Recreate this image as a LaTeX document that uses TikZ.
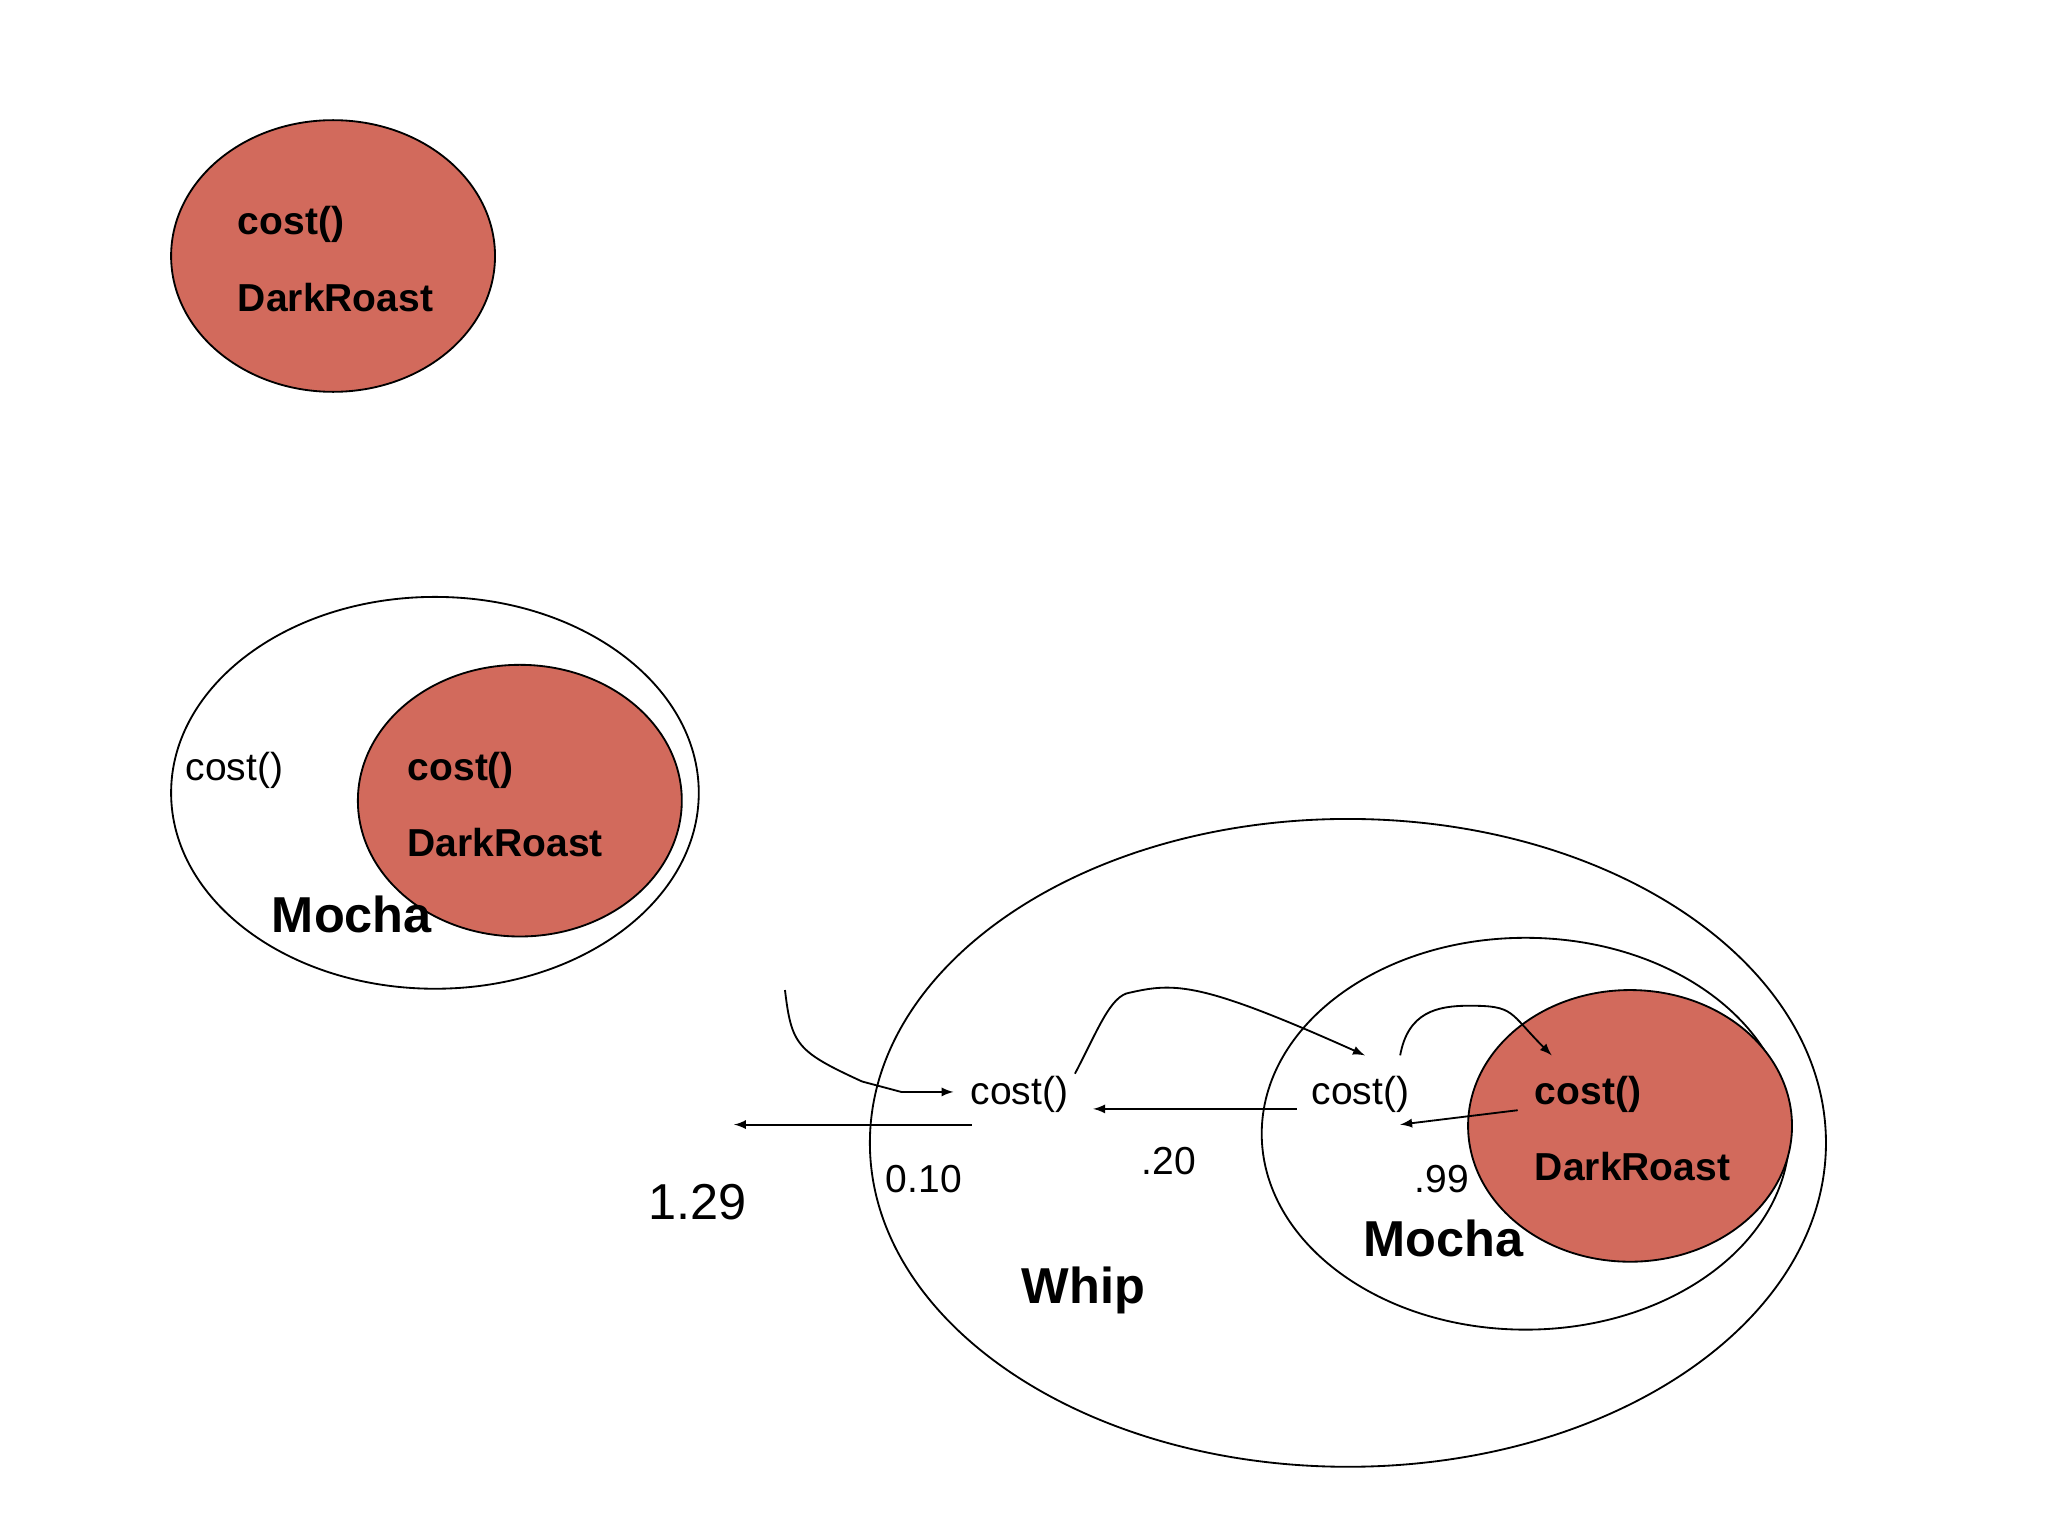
\documentclass[tikz,border=0pt]{standalone}
\usepackage{fontspec}
\setmainfont{Liberation Sans}
\definecolor{roast}{HTML}{D26A5C}
\begin{document}
\begin{tikzpicture}[x=0.02cm,y=-0.02cm,
  red/.style={draw,fill=roast,line width=0.8pt},
  wrap/.style={draw,line width=0.8pt},
  bt/.style={anchor=west,font=\fontsize{17}{20}\selectfont\bfseries},
  nt/.style={anchor=west,font=\fontsize{17}{20}\selectfont},
  big/.style={anchor=west,font=\fontsize{22}{26}\selectfont\bfseries},
  arr/.style={-latex,line width=0.8pt}]
\useasboundingbox (0,0) rectangle (1568,1176);
% first
\draw[red] (255,196) ellipse [x radius=124,y radius=104];
\node[bt] (c1) at (176,172) {cost()};
\node[bt] at (176,228) {DarkRoast};
% second
\draw[wrap] (333,607) ellipse [x radius=202,y radius=150];
\draw[red] (398,613) ellipse [x radius=124,y radius=104];
\node[nt] at (136,590) {cost()};
\node[bt] at (306,590) {cost()};
\node[bt] at (306,645) {DarkRoast};
\node[big] at (202,700) {Mocha};
% third
\draw[wrap] (1032,875) ellipse [x radius=366,y radius=248];
\draw[wrap] (1168,868) ellipse [x radius=202,y radius=150];
\draw[red] (1248,862) ellipse [x radius=124,y radius=104];
\node[bt] (dc) at (1169,838) {cost()};
\node[bt] at (1169,893) {DarkRoast};
\node[big] at (1038,948) {Mocha};
\node[big] at (776,988) {Whip};
\node[nt] (wc) at (737,838) {cost()};
\node[nt] (mc) at (998,838) {cost()};
\node[anchor=west,font=\fontsize{22}{26}\selectfont] at (490,920) {1.29};
\node[nt] at (672,903) {0.10};
\node[nt] at (868,889) {.20};
\node[nt] at (1077,903) {.99};
\coordinate (s) at (601,758);
\coordinate (o) at (562,861);
\draw[arr] (s) .. controls (606,800) and (610,805) .. (660,828) -- (690,836) -- (730,836);
\draw[arr] (744,861) -- (o);
\draw[arr] (993,849) -- (837,849);
\draw[arr] (823,822) .. controls (840,790) and (850,762) .. (865,760) .. controls (900,752) and (920,752) .. (1045,808);
\draw[arr] (1072,808) .. controls (1078,775) and (1100,770) .. (1125,770) .. controls (1160,770) and (1155,775) .. (1188,808);
\draw[arr] (1162,850) -- (1072,861);
\end{tikzpicture}
\end{document}
